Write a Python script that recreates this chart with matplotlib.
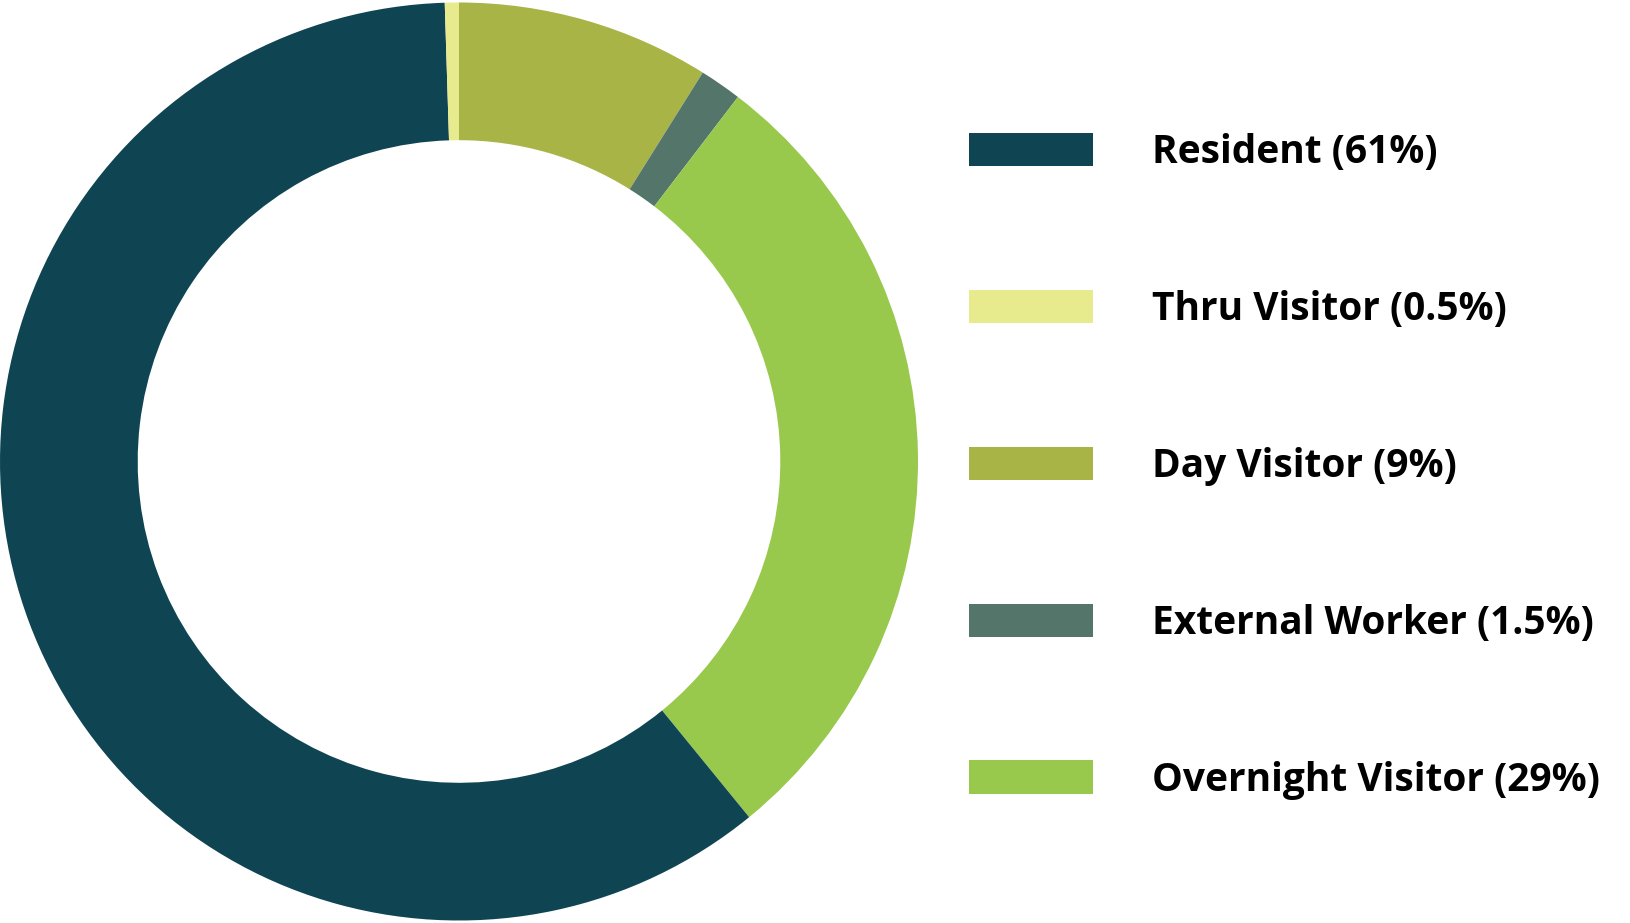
import matplotlib
matplotlib.use("Agg")
import matplotlib.pyplot as plt

# Visitor mix shares (%), clockwise from 12 o'clock
labels = ["Day Visitor", "External Worker", "Overnight Visitor", "Resident", "Thru Visitor"]
label_pct = ["9%", "1.5%", "29%", "61%", "0.5%"]
shares = [9, 1.5, 29, 61, 0.5]
colors = ["#A9B447", "#53756A", "#98C94C", "#0F4553", "#E7EA8D"]

# legend order as in the reference
legend_order = ["Resident", "Thru Visitor", "Day Visitor", "External Worker", "Overnight Visitor"]

plt.rcParams['font.family'] = ['Open Sans', 'DejaVu Sans']

fig = plt.figure(figsize=(16.31, 9.23), dpi=100)
ax = fig.add_axes([0, 0, 918 / 1631, 1])

wedges, _ = ax.pie(shares, colors=colors, startangle=90, counterclock=False,
                   radius=1, wedgeprops=dict(width=0.30, linewidth=0))
ax.set_xlim(-1, 1)
ax.set_ylim(-1, 1)
ax.set_aspect('equal')
ax.axis('off')

handles = [wedges[labels.index(n)] for n in legend_order]
texts = [f"{n} ({label_pct[labels.index(n)]})" for n in legend_order]
leg = fig.legend(handles, texts, loc='center left', bbox_to_anchor=(0.594, 0.495),
                 frameon=False, borderpad=0, borderaxespad=0,
                 prop=dict(family=['Open Sans', 'DejaVu Sans'], weight='bold', size=28),
                 handlelength=3.2, handleheight=0.95, handletextpad=1.5, labelspacing=3.03)

fig.savefig("out.png", dpi=100)
